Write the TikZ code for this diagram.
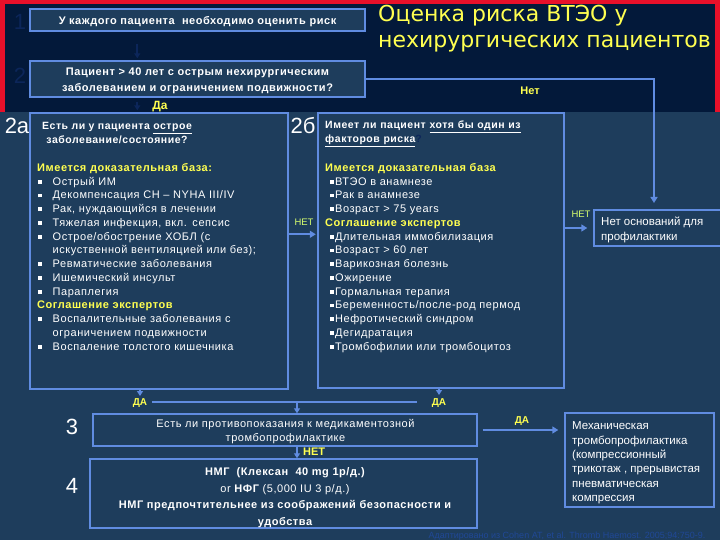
\documentclass[tikz,border=0pt]{standalone}
\usepackage{fontspec}
\setmainfont{Liberation Sans}
\newfontfamily\wide{Liberation Sans}[LetterSpace=5]
\newfontfamily\titlefont{DejaVu Sans}
\usetikzlibrary{arrows.meta,calc}
\definecolor{bgc}{RGB}{30,61,92}
\definecolor{topc}{RGB}{3,25,58}
\definecolor{framec}{RGB}{232,16,42}
\definecolor{linec}{RGB}{96,140,225}
\definecolor{yel}{RGB}{255,255,80}
\definecolor{netc}{RGB}{215,255,110}
\definecolor{dimc}{RGB}{12,38,90}
\definecolor{citec}{RGB}{32,72,150}
\newcommand\bul[1]{\hangindent=15.5pt\hangafter=1\noindent\makebox[15.5pt][l]{\hspace{1pt}\raisebox{1.4pt}{\rule{3.8pt}{3.8pt}}}#1\par}
\newcommand\bulb[1]{\hangindent=10pt\hangafter=1\noindent\makebox[10pt][l]{\hspace{5pt}\raisebox{1.4pt}{\rule{3.8pt}{3.8pt}}}#1\par}
\begin{document}
\begin{tikzpicture}[x=1pt,y=-1pt,
  box/.style={draw=linec, line width=1.4pt, fill=bgc, inner sep=0pt},
  txt/.style={inner sep=0pt, text=white, font=\wide\fontsize{11}{13.75}\selectfont},
  ctxt/.style={inner sep=0pt, text=white, align=center},
  arr/.style={draw=linec, line width=2.2pt, -{Triangle[length=6pt,width=7pt]}},
  dimarr/.style={draw=dimc, line width=2pt, -{Triangle[length=5pt,width=6pt]}},
  lab/.style={inner sep=0pt, text=yel, font=\bfseries\fontsize{11}{13}\selectfont},
  netlab/.style={inner sep=0pt, text=netc, font=\fontsize{9.5}{11}\selectfont},
  num/.style={inner sep=0pt, text=white, font=\fontsize{22}{24}\selectfont},
  dimnum/.style={inner sep=0pt, text=dimc, font=\fontsize{22}{24}\selectfont}]
\useasboundingbox (0,0) rectangle (720,540);
\fill[bgc] (0,0) rectangle (720,540);
\fill[framec] (0,0) rectangle (720,112);
\fill[topc] (5,4) rectangle (715,112);

% title
\node[inner sep=0pt, anchor=west, text=yel, font=\titlefont\fontsize{22}{26}\selectfont] (title1) at (378,16) {Оценка риска ВТЭО у};
\node[inner sep=0pt, anchor=west, text=yel, font=\titlefont\fontsize{22}{26}\selectfont] (title2) at (378,44) {нехирургических пациентов};

% dim numbers
\node[dimnum] (n1) at (20,22) {1};
\node[dimnum] (n2) at (20,76) {2};

% boxes 1 and 2
\node[box, minimum width=335pt, minimum height=22pt] (b1) at (197.5,20) {};
\node[ctxt, font=\wide\bfseries\fontsize{11}{16}\selectfont] (tb1) at (197.5,21.5) {У каждого пациента\ \ необходимо оценить риск};
\node[box, minimum width=335pt, minimum height=36pt] (b2) at (197.5,79) {};
\node[ctxt, font=\wide\bfseries\fontsize{11}{16}\selectfont] (tb2) at (197.5,80.5) {Пациент > 40 лет с острым нехирургическим\\заболеванием и ограничением подвижности?};

% boxes 2a, 2b
\node[box, minimum width=258pt, minimum height=276pt] (b2a) at (159,251) {};
\node[box, minimum width=246pt, minimum height=275pt] (b2b) at (441,250.5) {};
\node[num] (n2a) at (17,126) {2а};
\node[num] (n2b) at (303,126) {2б};

\node[ctxt, font=\wide\bfseries\fontsize{10.5}{13.7}\selectfont] (h2a) at (117,133) {Есть ли у пациента \underline{острое}\\заболевание/состояние?};

\node[txt, anchor=north west, text width=250pt, align=left] (t2a) at (37,163) {%
\textcolor{yel}{\bfseries Имеется доказательная база:}\par
\bul{Острый ИМ}
\bul{Декомпенсация СН – NYHA III/IV}
\bul{Рак, нуждающийся в лечении}
\bul{Тяжелая инфекция, вкл. сепсис}
\bul{Острое/обострение ХОБЛ (с\newline искуственной вентиляцией или без);}
\bul{Ревматические заболевания}
\bul{Ишемический инсульт}
\bul{Параплегия}
\noindent\textcolor{yel}{\bfseries Соглашение экспертов}\par
\bul{Воспалительные заболевания с\newline ограничением подвижности}
\bul{Воспаление толстого кишечника}
};

\node[txt, anchor=north west, text width=236pt, align=left] (t2b) at (325,120.5) {%
{\bfseries\fontsize{10.5}{13.9}\selectfont Имеет ли пациент \underline{хотя бы один из}\\\underline{факторов риска}\textcolor{dimc}{?}}\par
\vspace{15.5pt}
\textcolor{yel}{\bfseries Имеется доказательная база}\par
\bulb{ВТЭО в анамнезе}
\bulb{Рак в анамнезе}
\bulb{Возраст > 75 years}
\noindent\textcolor{yel}{\bfseries Соглашение экспертов}\par
\bulb{Длительная иммобилизация}
\bulb{Возраст > 60 лет}
\bulb{Варикозная болезнь}
\bulb{Ожирение}
\bulb{Гормальная терапия}
\bulb{Беременность/после-род пермод}
\bulb{Нефротический синдром}
\bulb{Дегидратация}
\bulb{Тромбофилии или тромбоцитоз}
};

% no-prophylaxis box
\node[box, minimum width=131pt, minimum height=36pt] (nob) at (659.5,228) {};
\node[txt, anchor=west, align=left, font=\fontsize{11.5}{15}\selectfont] (tnob) at (601,229.5) {Нет оснований для\\профилактики};

% boxes 3, 4, mechanical
\node[box, minimum width=384pt, minimum height=32pt] (b3) at (285,430) {};
\node[ctxt, font=\wide\fontsize{11}{14}\selectfont] (tb3) at (285.5,432) {Есть ли противопоказания к медикаментозной\\тромбопрофилактике};
\node[box, minimum width=387pt, minimum height=69pt] (b4) at (283.5,493.5) {};
\node[ctxt, font=\wide\bfseries\fontsize{11}{16.6}\selectfont] (tb4) at (285,497.5) {НМГ\ \ (Клексан\ \ 40 mg 1р/д.)\\{\mdseries or} НФГ {\mdseries(5,000 IU 3 р/д.)}\\НМГ предпочтительнее из соображений безопасности и\\удобства};
\node[num] (n3) at (72,427) {3};
\node[num] (n4) at (72,486) {4};
\node[box, minimum width=149pt, minimum height=94pt] (mech) at (639.5,460) {};
\node[txt, anchor=west, align=left, font=\fontsize{11.5}{14.4}\selectfont] (tmech) at (572,463) {Механическая\\тромбопрофилактика\\(компрессионный\\трикотаж , прерывистая\\пневматическая\\компрессия};

% connectors
\draw[dimarr] ($(b1.south west)+(108,12)$) -- ($(b2.north west)+(108,-2)$);
\draw[dimarr] ($(b2.south west)+(108,4)$) -- ($(b2a.north west)+(108,-2)$);
\node[lab, font=\bfseries\fontsize{12}{14}\selectfont] (da1) at (160,107) {Да};

\coordinate (nett) at (654,203);
\draw[arr] (b2.east) -| (nett);
\node[lab] (net1) at (530,91) {Нет};

\draw[arr] ($(b2a.north east)+(0,122)$) -- ($(b2b.north west)+(-1.5,122)$);
\node[netlab] (net2) at (304,222) {НЕТ};
\draw[arr, shorten >=6pt] (b2b.east |- nob.west) -- (nob.west);
\node[netlab] (net3) at (581,214) {НЕТ};

\coordinate (da2p) at (140,389);
\draw[draw=linec, line width=1.4pt, -{Triangle[length=5pt,width=6pt]}] (da2p) -- ++(0,7);
\node[lab, font=\bfseries\fontsize{10}{12}\selectfont] (da2) at (140,403) {ДА};
\coordinate (da3p) at (439,388);
\draw[draw=linec, line width=1.4pt, -{Triangle[length=5pt,width=6pt]}] (da3p) -- ++(0,7);
\node[lab, font=\bfseries\fontsize{10}{12}\selectfont] (da3) at (439,403) {ДА};

\coordinate (hl) at (152,402);
\coordinate (hr) at (417,402);
\coordinate (split) at (297,402);
\draw[draw=linec, line width=2.2pt] (hl) -- (hr);
\draw[draw=linec, line width=1.6pt, -{Triangle[length=5pt,width=6pt]}] (split) -- (split |- b3.north);
\draw[draw=linec, line width=1.6pt, -{Triangle[length=5pt,width=6pt]}] (split |- b3.south) -- (split |- b4.north);
\node[lab, font=\bfseries\fontsize{11}{13}\selectfont, anchor=west] (net4) at (303,451.5) {НЕТ};

\draw[arr, shorten <=5pt, shorten >=6pt] (b3.east) -- (b3.east -| mech.west);
\node[lab, font=\bfseries\fontsize{10}{12}\selectfont] (da4) at (522,421) {ДА};

\node[inner sep=0pt, text=citec, font=\fontsize{9}{11}\selectfont] (cite) at (567,536) {Адаптировано из Cohen AT, et al. Thromb Haemost. 2005;94:750-9.};
\end{tikzpicture}
\end{document}
